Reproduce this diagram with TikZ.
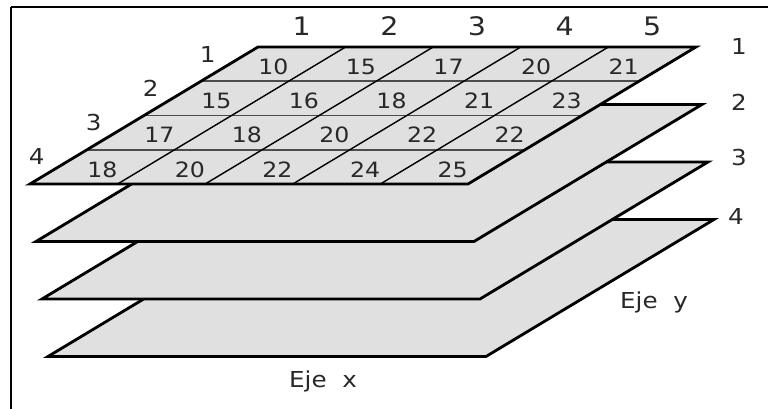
\documentclass[tikz,border=0pt]{standalone}
\usepackage{fontspec}
\setmainfont{DejaVu Sans}[FakeStretch=1.12]
\usepackage{xcolor}
\usepackage{tikz}

\definecolor{layergray}{RGB}{224,224,224}
\definecolor{inkgray}{RGB}{40,40,40}
\tikzset{
  layer/.style={fill=layergray, draw=black, line width=1.6pt},
  rowline/.style={draw=black!70, line width=1.1pt},
  colline/.style={draw=black, line width=0.8pt},
  cellnum/.style={font=\fontsize{12}{14}\selectfont, text=inkgray, inner sep=0pt},
  axisnum/.style={font=\fontsize{12.5}{14}\selectfont, text=inkgray, inner sep=0pt},
  topnum/.style={font=\fontsize{14.5}{16}\selectfont, text=inkgray, inner sep=0pt},
}

\begin{document}
\begin{tikzpicture}
				\useasboundingbox (0,0) rectangle (15.36,8.18);
				% frame
				\draw[line width=1pt] (0.22,0) -- (0.22,8.04);
				\draw[line width=1.6pt] (0.22,8.04) -- (15.36,8.04);
				
				% lower layers
				\filldraw[layer] (0.96,1.05) -- ++(8.76,0) -- ++(4.56,2.74) -- ++(-8.76,0) -- cycle;
				\filldraw[layer] (0.84,2.2) -- ++(8.76,0) -- ++(4.56,2.74) -- ++(-8.76,0) -- cycle;
				\filldraw[layer] (0.72,3.35) -- ++(8.76,0) -- ++(4.56,2.74) -- ++(-8.76,0) -- cycle;
				
				% top layer with the table
				\begin{scope}[shift={(0.6,4.5)}, x={(8.76cm,0cm)}, y={(4.56cm,2.74cm)}]
					\fill[layergray] (0,0) -- (1,0) -- (1,1) -- (0,1) -- cycle;
					\foreach \v in {0.25,0.5,0.75}
						\draw[rowline] (0,\v) -- (1,\v);
					\foreach \u in {0.2,0.4,0.6,0.8}
						\draw[colline] (\u,0) -- (\u,1);
					\draw[layer, fill=none] (0,0) -- (1,0) -- (1,1) -- (0,1) -- cycle;
					
					\foreach \row [count=\r] in {{10,15,17,20,21},{15,16,18,21,23},{17,18,20,22,22},{18,20,22,24,25}}
						\foreach \val [count=\c] in \row
							\node[cellnum, yshift=-0.05cm] (n\r\c) at ({(\c-0.5)/5},{1-(\r-0.5)/4}) {\val};
					
					\foreach \c in {1,...,5}
						\node[topnum, yshift=0.42cm] (col\c) at ({(\c-0.5)/5},1) {\c};
					\foreach \r in {1,...,4}
						\node[axisnum] (row\r) at (-0.088,{1-(\r-0.5)/4+0.073}) {\r};
				\end{scope}
				
				% layer numbers
				\node[axisnum] (lay1) at (14.78,7.24) {1};
				\node[axisnum] (lay2) at (14.78,6.14) {2};
				\node[axisnum] (lay3) at (14.78,5.02) {3};
				\node[axisnum] (lay4) at (14.72,3.84) {4};
				
				\node[axisnum] (ejex) at (6.46,0.56) {Eje\ \ x};
				\node[axisnum] (ejey) at (13.08,2.14) {Eje\ \ y};
			\end{tikzpicture}
\end{document}
